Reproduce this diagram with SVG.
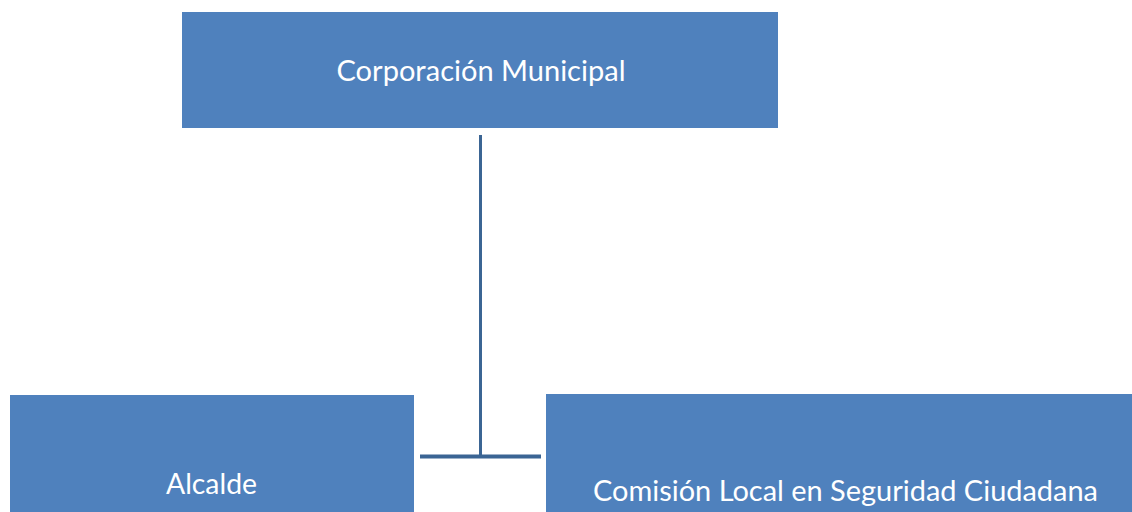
<svg xmlns="http://www.w3.org/2000/svg" width="1132" height="512" viewBox="0 0 1132 512">
<style>
.box{fill:#4F81BD;}
.lbl{font-family:Lato,"Open Sans","Liberation Sans",sans-serif;font-size:28px;fill:#FFFFFF;text-anchor:middle;}
.conn{stroke:#3B6594;fill:none;}
</style>
<rect width="1132" height="512" fill="#FFFFFF"/>
<g id="corporacion">
<rect class="box" x="182" y="12" width="596" height="116"/>
<text class="lbl" x="481" y="81" textLength="289" lengthAdjust="spacingAndGlyphs">Corporación Municipal</text>
</g>
<g id="alcalde">
<rect class="box" x="10" y="395" width="404" height="117"/>
<text class="lbl" x="211.5" y="494" textLength="91" lengthAdjust="spacingAndGlyphs">Alcalde</text>
</g>
<g id="comision">
<rect class="box" x="546" y="394" width="586" height="118"/>
<text class="lbl" x="845.5" y="501" textLength="505" lengthAdjust="spacingAndGlyphs">Comisión Local en Seguridad Ciudadana</text>
</g>
<g id="connectors">
<line class="conn" x1="480.5" y1="135" x2="480.5" y2="457" stroke-width="3"/>
<line class="conn" x1="420" y1="456.5" x2="541" y2="456.5" stroke-width="4"/>
</g>
</svg>
